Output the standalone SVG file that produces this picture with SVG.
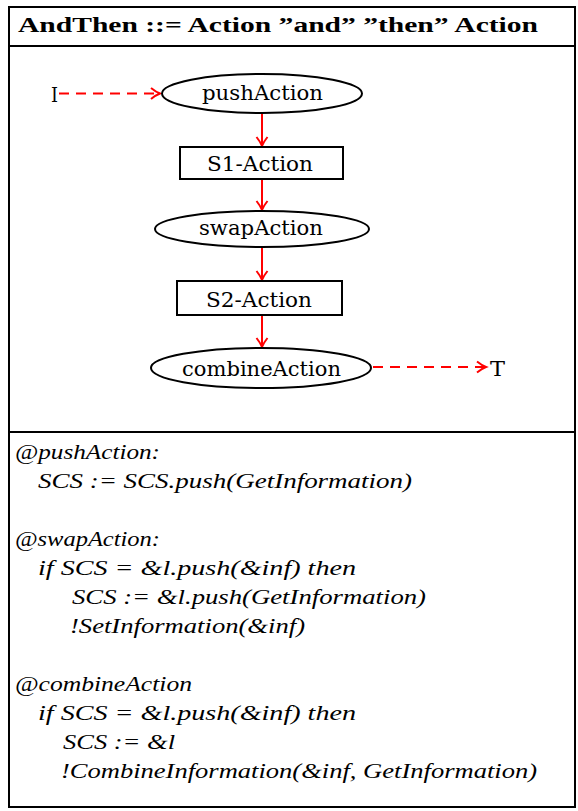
<svg xmlns="http://www.w3.org/2000/svg" width="578" height="811" viewBox="0 0 578 811">
  <style>
    .frame { fill: none; stroke: #000; stroke-width: 2; }
    .node { fill: #fff; stroke: #000; stroke-width: 2; }
    .lbl { font-size: 20px; fill: #000; }
    .title { font-size: 20px; font-weight: bold; fill: #000; }
    .code { font-size: 20px; font-style: italic; fill: #000; }
    .flow { stroke: #ff0000; stroke-width: 2; fill: none; marker-end: url(#arrow); }
    .dash { stroke-dasharray: 10 7; }
  </style>
  <defs>
    <marker id="arrow" markerWidth="14" markerHeight="14" refX="10" refY="7" orient="auto" markerUnits="userSpaceOnUse">
      <path d="M1,1.5 Q6,5.5 10,7 Q6,8.5 1,12.5" fill="none" stroke="#ff0000" stroke-width="2"/>
    </marker>
  </defs>

  <rect width="578" height="811" fill="#fff"/>

  <!-- outer frame and section rules -->
  <g id="frame">
    <rect class="frame" x="9" y="7" width="566" height="800"/>
    <line class="frame" x1="9" y1="46" x2="575" y2="46"/>
    <line class="frame" x1="9" y1="432" x2="575" y2="432"/>
  </g>

  <text class="title" font-family="'Liberation Serif', serif" x="18" y="32" textLength="520" lengthAdjust="spacingAndGlyphs">AndThen ::= Action ”and” ”then” Action</text>

  <!-- connectors -->
  <g id="connectors">
    <line class="flow dash" x1="59" y1="93.5" x2="160" y2="93.5"/>
    <line class="flow" x1="262" y1="113" x2="262" y2="146"/>
    <line class="flow" x1="262" y1="179" x2="262" y2="210"/>
    <line class="flow" x1="262" y1="247" x2="262" y2="280"/>
    <line class="flow" x1="262" y1="315" x2="262" y2="347"/>
    <line class="flow dash" x1="373" y1="367" x2="486" y2="367"/>
  </g>

  <!-- nodes -->
  <g id="start" font-family="'DejaVu Serif', serif">
    <text class="lbl" x="51" y="102" textLength="7" lengthAdjust="spacingAndGlyphs">I</text>
  </g>
  <g id="pushAction" font-family="'DejaVu Serif', serif">
    <ellipse class="node" cx="262" cy="93.5" rx="100" ry="19.5"/>
    <text class="lbl" x="202" y="99.5" textLength="121" lengthAdjust="spacingAndGlyphs">pushAction</text>
  </g>
  <g id="s1Action" font-family="'DejaVu Serif', serif">
    <rect class="node" x="180" y="147" width="163" height="32"/>
    <text class="lbl" x="207" y="170.5" textLength="106" lengthAdjust="spacingAndGlyphs">S1-Action</text>
  </g>
  <g id="swapAction" font-family="'DejaVu Serif', serif">
    <ellipse class="node" cx="262" cy="229" rx="107" ry="18"/>
    <text class="lbl" x="199" y="235" textLength="124" lengthAdjust="spacingAndGlyphs">swapAction</text>
  </g>
  <g id="s2Action" font-family="'DejaVu Serif', serif">
    <rect class="node" x="177" y="281" width="165" height="34"/>
    <text class="lbl" x="206" y="306.5" textLength="106" lengthAdjust="spacingAndGlyphs">S2-Action</text>
  </g>
  <g id="combineAction" font-family="'DejaVu Serif', serif">
    <ellipse class="node" cx="261" cy="368" rx="110" ry="20"/>
    <text class="lbl" x="182" y="375.5" textLength="159" lengthAdjust="spacingAndGlyphs">combineAction</text>
  </g>
  <g id="end" font-family="'DejaVu Serif', serif">
    <text class="lbl" x="490" y="375.5" textLength="15" lengthAdjust="spacingAndGlyphs">T</text>
  </g>

  <!-- semantic action code -->
  <g id="code" style="font-family: 'Liberation Serif', 'Times New Roman', serif">
    <text class="code" x="15" y="459" textLength="145" lengthAdjust="spacingAndGlyphs">@pushAction:</text>
    <text class="code" x="38" y="488" textLength="374" lengthAdjust="spacingAndGlyphs">SCS := SCS.push(GetInformation)</text>
    <text class="code" x="15" y="546" textLength="145" lengthAdjust="spacingAndGlyphs">@swapAction:</text>
    <text class="code" x="38" y="575" textLength="318" lengthAdjust="spacingAndGlyphs">if SCS =  &amp;l.push(&amp;inf) then</text>
    <text class="code" x="72" y="604" textLength="354" lengthAdjust="spacingAndGlyphs">SCS := &amp;l.push(GetInformation)</text>
    <text class="code" x="70" y="633" textLength="235" lengthAdjust="spacingAndGlyphs">!SetInformation(&amp;inf)</text>
    <text class="code" x="15" y="691" textLength="177" lengthAdjust="spacingAndGlyphs">@combineAction</text>
    <text class="code" x="38" y="720" textLength="318" lengthAdjust="spacingAndGlyphs">if SCS =  &amp;l.push(&amp;inf) then</text>
    <text class="code" x="63" y="749" textLength="112" lengthAdjust="spacingAndGlyphs">SCS := &amp;l</text>
    <text class="code" x="61" y="778" textLength="476" lengthAdjust="spacingAndGlyphs">!CombineInformation(&amp;inf, GetInformation)</text>
  </g>
</svg>
